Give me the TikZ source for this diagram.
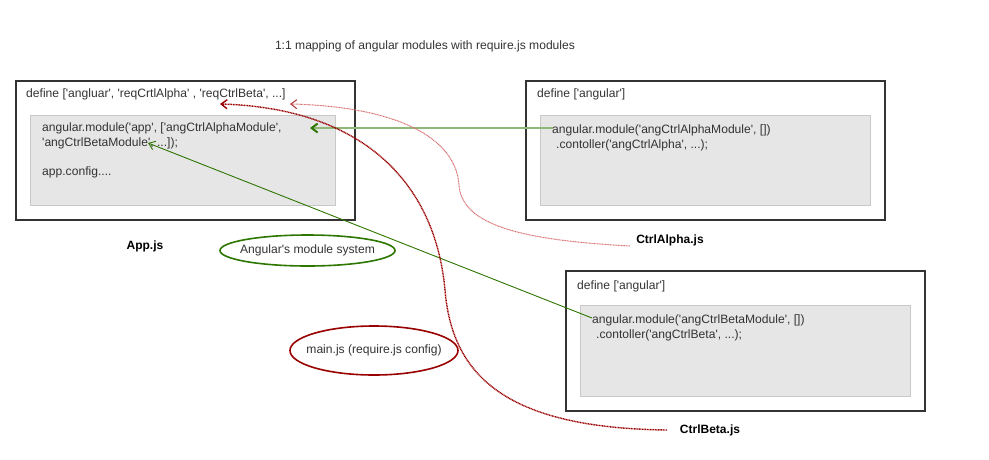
\documentclass[tikz,border=0pt]{standalone}
\usepackage{fontspec}
\setmainfont{Liberation Sans}
\usetikzlibrary{arrows.meta,shapes.geometric}
\definecolor{frame}{HTML}{333333}
\definecolor{innerfill}{HTML}{E6E6E6}
\definecolor{innerline}{HTML}{C8C8C8}
\definecolor{ngreen}{HTML}{2D7600}
\definecolor{lgreen}{HTML}{8DB878}
\definecolor{dred}{HTML}{990000}
\definecolor{lred}{HTML}{D87070}
\definecolor{txt}{HTML}{333333}
\newcommand{\sq}{\textquotesingle}
\tikzset{
  every node/.style={font=\fontsize{12.1}{14}\selectfont, text=txt},
  outerbox/.style={draw=frame, line width=1.6pt, anchor=north west, inner sep=0pt},
  innerbox/.style={draw=innerline, fill=innerfill, line width=0.8pt, anchor=north west, inner sep=0pt},
  codetext/.style={anchor=west, inner sep=0pt},
  filelabel/.style={font=\fontsize{12}{14}\selectfont\bfseries, text=black, inner sep=0pt},
  greenell/.style={ellipse, draw=ngreen, line width=1.6pt, inner sep=0pt},
  redell/.style={ellipse, draw=dred, line width=1.6pt, inner sep=0pt},
  elltext/.style={inner sep=0pt},
  openarrow/.style={-{Straight Barb[length=6pt,width=9pt]}},
}
\begin{document}
\begin{tikzpicture}[x=1pt,y=-1pt]
\useasboundingbox (0,0) rectangle (989,459);

\node[inner sep=0pt] (title) at (425,46) {1:1 mapping of angular modules with require.js modules};

% App.js
\node[outerbox, minimum width=339pt, minimum height=139pt] (app) at (15,80) {};
\node[innerbox, minimum width=305pt, minimum height=90pt] (appin) at (30,115) {};
\node[codetext] (appdef) at (26,94) {define [\sq angluar\sq, \sq reqCrtlAlpha\sq{} , \sq reqCtrlBeta\sq, ...]};
\node[codetext] (appl1) at (42,128) {angular.module(\sq app\sq, [\sq angCtrlAlphaModule\sq,};
\node[codetext] (appl2) at (42,143) {\sq angCtrlBetaModule\sq, ...]);};
\node[codetext] (appl3) at (42,172) {app.config....};
\node[filelabel] (applbl) at (145,246) {App.js};

% CtrlAlpha.js
\node[outerbox, minimum width=359pt, minimum height=139pt] (alpha) at (525,80) {};
\node[innerbox, minimum width=330pt, minimum height=90pt] (alphain) at (540,115) {};
\node[codetext] (alphadef) at (537,94) {define [\sq angular\sq]};
\node[codetext] (alphal1) at (552,130) {angular.module(\sq angCtrlAlphaModule\sq, [])};
\node[codetext] (alphal2) at (556,145) {.contoller(\sq angCtrlAlpha\sq, ...);};
\node[filelabel] (alphalbl) at (670,240) {CtrlAlpha.js};

% CtrlBeta.js
\node[outerbox, minimum width=359pt, minimum height=140pt] (beta) at (565,270) {};
\node[innerbox, minimum width=330pt, minimum height=91pt] (betain) at (580,305) {};
\node[codetext] (betadef) at (577,286) {define [\sq angular\sq]};
\node[codetext] (betal1) at (592,320) {angular.module(\sq angCtrlBetaModule\sq, [])};
\node[codetext] (betal2) at (596,335) {.contoller(\sq angCtrlBeta\sq, ...);};
\node[filelabel] (betalbl) at (710,430) {CtrlBeta.js};

% ellipses
\node[greenell, minimum width=175pt, minimum height=31pt] (angsys) at (307.5,250.5) {};
\node[elltext] (angsystxt) at (angsys.center) {Angular\sq s module system};
\node[redell, minimum width=168pt, minimum height=49pt] (mainjs) at (374,350.5) {};
\node[elltext] (mainjstxt) at (mainjs.center) {main.js (require.js config)};

% connector end points
\coordinate (alphaSrc) at (553,128);
\coordinate (alphaDst) at (310,128);
\coordinate (betaSrc) at (592,318);
\coordinate (betaDst) at (148,143);
\coordinate (reqAlphaSrc) at (630,246);
\coordinate (reqAlphaDst) at (290,104);
\coordinate (reqBetaSrc) at (667,430);
\coordinate (reqBetaDst) at (220,104);

% angular module links
\draw[lgreen, line width=2pt, -{Straight Barb[length=6pt,width=9pt,color=ngreen]}] (alphaSrc) -- (alphaDst);
\draw[ngreen, line width=0.9pt, openarrow] (betaSrc) -- (betaDst);

% require.js links
\draw[lred, line width=1pt, dash pattern=on 1pt off 0.6pt, -{Straight Barb[length=6pt,width=9pt,color=dred!80!white]}]
  (reqAlphaSrc) .. controls (520,240) and (462,225) .. (459,185)
  .. controls (455,130) and (380,106) .. (reqAlphaDst);
\draw[dred, line width=1.4pt, dash pattern=on 1pt off 0.6pt, -{Straight Barb[length=6pt,width=9pt]}]
  (reqBetaSrc) .. controls (505,428) and (452,375) .. (445,290)
  .. controls (435,180) and (360,108) .. (reqBetaDst);
\end{tikzpicture}
\end{document}
